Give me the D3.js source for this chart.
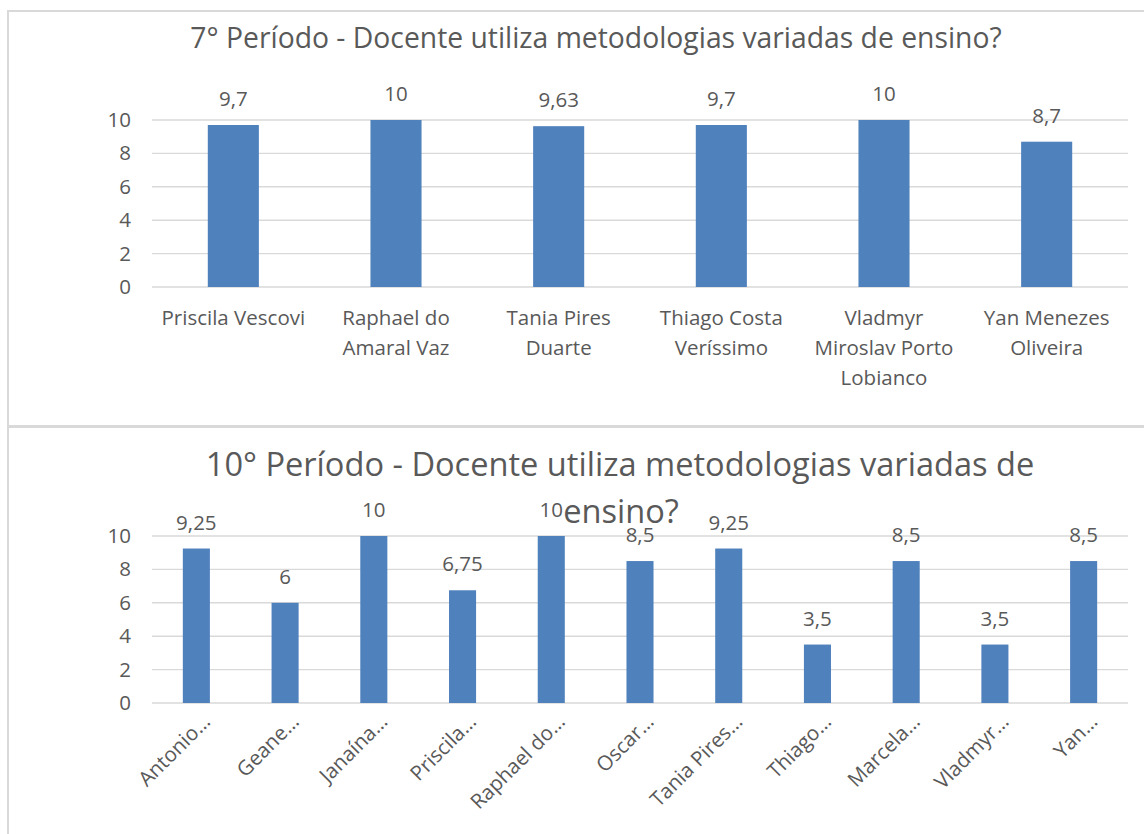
<!DOCTYPE html>
<html>
<head>
<meta charset="utf-8">
<script src="https://cdn.jsdelivr.net/npm/d3@7"></script>
<style>
  html, body { margin: 0; padding: 0; background: #fff; }
  svg { display: block; font-family: "Open Sans", sans-serif; }
</style>
</head>
<body>
<svg id="chart" width="1144" height="834"></svg>
<script>
// 7° período
const categories7 = ["Priscila Vescovi", "Raphael do Amaral Vaz", "Tania Pires Duarte",
  "Thiago Costa Veríssimo", "Vladmyr Miroslav Porto Lobianco", "Yan Menezes Oliveira"];
const values7 = [9.7, 10, 9.63, 9.7, 10, 8.7];

// 10° período
const categories10 = ["Antonio…", "Geane…", "Janaína…", "Priscila…", "Raphael do…", "Oscar…",
  "Tania Pires…", "Thiago…", "Marcela…", "Vladmyr…", "Yan…"];
const values10 = [9.25, 6, 10, 6.75, 10, 8.5, 9.25, 3.5, 8.5, 3.5, 8.5];

const yTicks = [0, 2, 4, 6, 8, 10];

const title7 = ["7° Período - Docente utiliza metodologias variadas de ensino?"];
const title10 = ["10° Período - Docente utiliza metodologias variadas de", "ensino?"];

const TEXT = "#595959", GRID = "#d9d9d9", BAR = "#4f81bd";
const fmt = v => String(v).replace(".", ",");

const svg = d3.select("#chart");
svg.append("rect").attr("width", 1144).attr("height", 834).attr("fill", "#fff");

// chart frames
svg.append("rect").attr("x", 8).attr("y", 11).attr("width", 1200).attr("height", 415)
  .attr("fill", "none").attr("stroke", GRID).attr("stroke-width", 2);
svg.append("rect").attr("x", 8).attr("y", 427).attr("width", 1200).attr("height", 450)
  .attr("fill", "none").attr("stroke", GRID).attr("stroke-width", 2);

function wrapText(textSel, width) {
  textSel.each(function () {
    const text = d3.select(this);
    const words = text.text().split(/\s+/);
    const x = text.attr("x"), y = text.attr("y");
    text.text(null);
    let line = [];
    let lineNo = 0;
    let tspan = text.append("tspan").attr("x", x).attr("y", y).attr("dy", 0);
    words.forEach(w => {
      line.push(w);
      tspan.text(line.join(" "));
      if (tspan.node().getComputedTextLength() > width && line.length > 1) {
        line.pop();
        tspan.text(line.join(" "));
        line = [w];
        lineNo++;
        tspan = text.append("tspan").attr("x", x).attr("y", y).attr("dy", lineNo * 30).text(w);
      }
    });
  });
}

function drawChart(cfg) {
  const g = svg.append("g");
  const x = d3.scaleBand().domain(cfg.categories).range([152, 1128]).padding(cfg.padding).paddingOuter(cfg.padding / 2);
  const y = d3.scaleLinear().domain([0, 10]).range([cfg.y0, cfg.y10]);

  // gridlines
  g.append("g").selectAll("line").data(yTicks).join("line")
    .attr("x1", 152).attr("x2", 1128)
    .attr("y1", d => y(d)).attr("y2", d => y(d))
    .attr("stroke", GRID).attr("stroke-width", 1.4);

  // y axis labels
  const yAxis = d3.axisLeft(y).tickValues(yTicks).tickSize(0).tickPadding(21).tickFormat(d3.format("d"));
  const ya = g.append("g").attr("transform", "translate(152,0)").call(yAxis);
  ya.select(".domain").remove();
  ya.selectAll("text").attr("fill", TEXT).attr("font-size", 20.5).attr("font-family", "Open Sans");

  // bars
  g.append("g").selectAll("rect").data(cfg.values).join("rect")
    .attr("x", (d, i) => x(cfg.categories[i]))
    .attr("width", x.bandwidth())
    .attr("y", d => y(d))
    .attr("height", d => y(0) - y(d))
    .attr("fill", BAR);

  // value labels
  g.append("g").selectAll("text").data(cfg.values).join("text")
    .attr("x", (d, i) => x(cfg.categories[i]) + x.bandwidth() / 2)
    .attr("y", d => y(d) - 19)
    .attr("text-anchor", "middle")
    .attr("fill", TEXT).attr("font-size", 20.5)
    .text(d => fmt(d));

  // category labels
  const cats = g.append("g").selectAll("text").data(cfg.categories).join("text")
    .attr("fill", TEXT).attr("font-size", 20.5);
  if (cfg.rotate) {
    cats.attr("text-anchor", "end")
      .attr("transform", d => `translate(${x(d) + x.bandwidth() / 2 + 10},${y(0) + 15}) rotate(-45)`)
      .attr("dy", "0.35em")
      .text(d => d);
  } else {
    cats.attr("text-anchor", "middle")
      .attr("x", d => x(d) + x.bandwidth() / 2)
      .attr("y", y(0) + 38)
      .text(d => d)
      .call(wrapText, x.step() - 4);
  }

  // title
  g.append("g").selectAll("text").data(cfg.title).join("text")
    .attr("x", (d, i) => cfg.titleX[i])
    .attr("y", (d, i) => cfg.titleY[i])
    .attr("text-anchor", "middle")
    .attr("fill", TEXT).attr("font-size", cfg.titleSize)
    .text(d => d);
}

drawChart({
  categories: categories7, values: values7, padding: 0.686,
  y0: 287, y10: 120, rotate: false,
  title: title7, titleX: [596], titleY: [48], titleSize: 28.3
});

drawChart({
  categories: categories10, values: values10, padding: 0.695,
  y0: 703, y10: 536, rotate: true,
  title: title10, titleX: [620, 621], titleY: [476, 523], titleSize: 32.6
});
</script>
</body>
</html>
